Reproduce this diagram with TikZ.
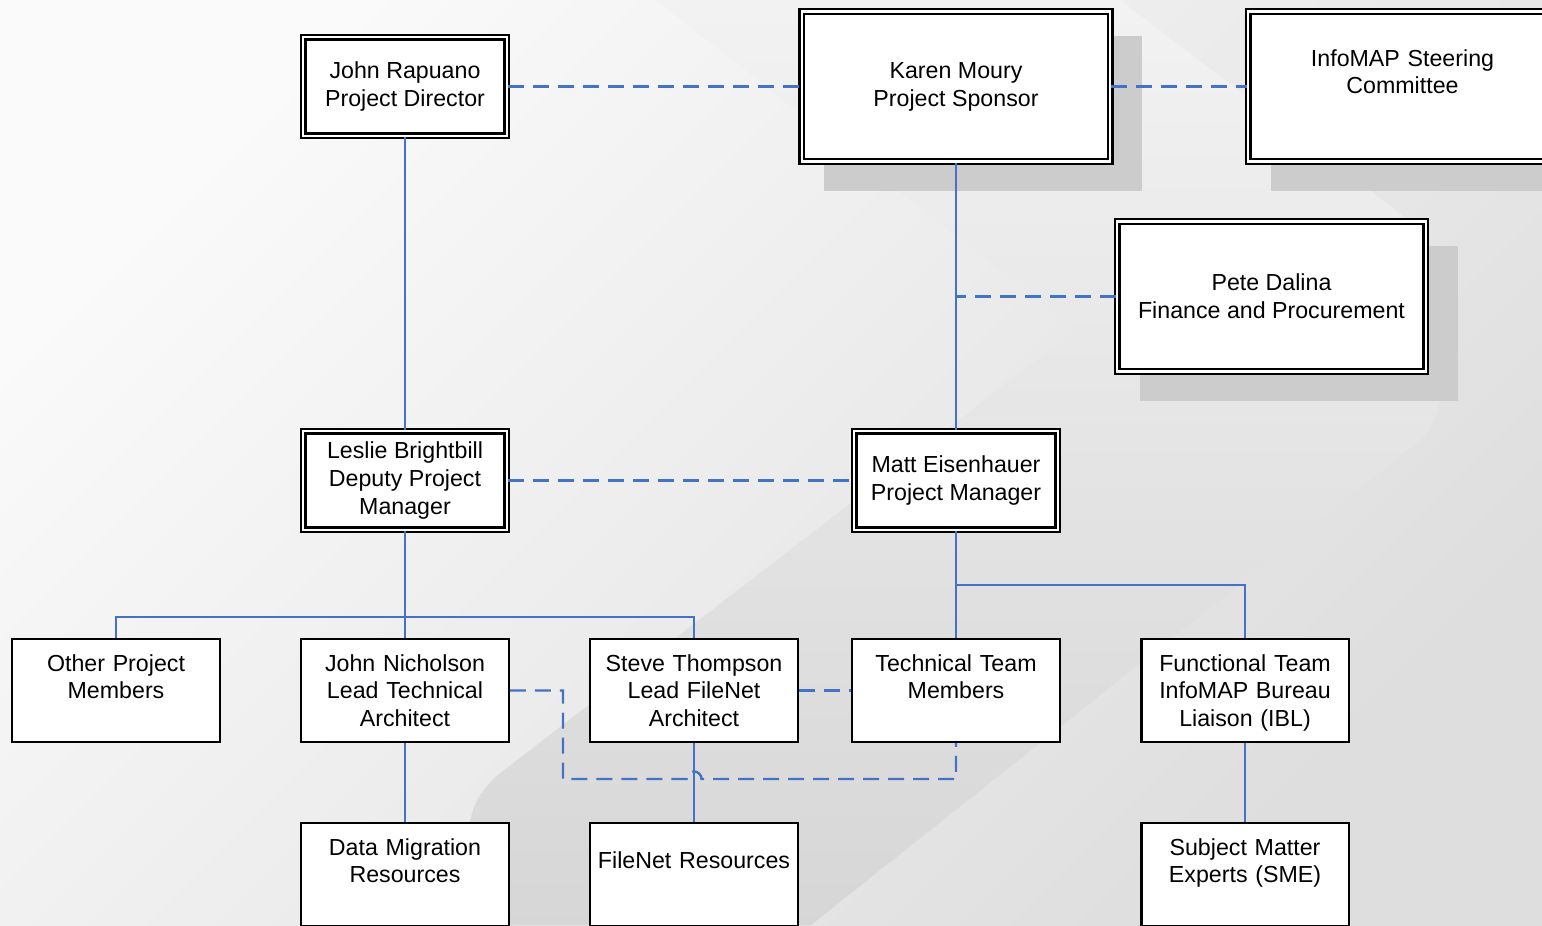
\documentclass[tikz,border=0pt]{standalone}
\usepackage{fontspec}
\setmainfont{Liberation Sans}
\usepackage{tikz}
\usetikzlibrary{shadows}

\definecolor{linkblue}{RGB}{68,114,196}
\definecolor{shadowgray}{RGB}{204,204,204}

\tikzset{
  dbox/.style={draw, double, line width=1.3pt, double distance=1.3pt, fill=white,
    minimum width=4.07cm, minimum height=1.97cm, inner sep=0pt, align=center,
    font=\fontsize{13.2}{15.9}\selectfont},
  bigbox/.style={dbox, minimum width=6.17cm, minimum height=3cm,
    drop shadow={shadow xshift=0.53cm, shadow yshift=-0.52cm, shadow scale=1.03,
      fill=shadowgray, opacity=1}},
  sbox/.style={draw, line width=1.4pt, fill=white, minimum width=4.15cm, minimum height=2.05cm,
    inner sep=0pt, text width=4cm, align=center, text height=9.6pt, text depth=31.8pt,
    font=\fontsize{13.2}{15.9}\selectfont},
  solidlink/.style={draw=linkblue, line width=1.2pt},
  dashlink/.style={solidlink, line width=1.4pt, dash pattern=on 0.32cm off 0.18cm},
}

\begin{document}
\begin{tikzpicture}
    \useasboundingbox (0,0) rectangle (30.84,-18.5);

    % background and the big grey chevron
    \shade[top color=black!2, bottom color=black!13, shading angle=45]
        (0,0) rectangle (30.84,-18.5);
    \shade[top color=black!5, middle color=black!21, bottom color=black!16]
        (13.12,0) -- (22.4,0) -- (27.96,-4.24)
        .. controls (29.16,-5.16) and (29.24,-8.14) .. (28.34,-8.86)
        -- (16.22,-18.5) -- (9.16,-18.5) -- (9.32,-16.7)
        .. controls (9.52,-15.96) .. (9.9,-15.54)
        -- (21.52,-6.6) -- cycle;

    % top levels
    \node[dbox] (rapuano) at (8.1,-1.73) {John Rapuano\\Project Director};
    \node[bigbox] (moury) at (19.12,-1.73) {Karen Moury\\Project Sponsor};
    \node[bigbox, text width=6cm, text height=9.6pt, text depth=32.9pt] (steering)
        at (28.05,-1.73) {InfoMAP Steering\\Committee};
    \node[bigbox] (dalina) at (25.43,-5.93) {Pete Dalina\\Finance and Procurement};
    \node[dbox] (brightbill) at (8.1,-9.61) {Leslie Brightbill\\Deputy Project\\Manager};
    \node[dbox] (eisenhauer) at (19.12,-9.61) {Matt Eisenhauer\\Project Manager};

    % teams
    \node[sbox] (other) at (2.32,-13.81) {Other Project\\Members};
    \node[sbox] (nicholson) at (8.1,-13.81) {John Nicholson\\Lead Technical\\Architect};
    \node[sbox] (thompson) at (13.88,-13.81) {Steve Thompson\\Lead FileNet\\Architect};
    \node[sbox] (techteam) at (19.12,-13.81) {Technical Team\\Members};
    \node[sbox] (functional) at (24.9,-13.81) {Functional Team\\InfoMAP Bureau\\Liaison (IBL)};

    \node[sbox] (migration) at (8.1,-17.49) {Data Migration\\Resources};
    \node[sbox, text height=25.5pt] (filenet) at (13.88,-17.49) {FileNet Resources};
    \node[sbox] (sme) at (24.9,-17.49) {Subject Matter\\Experts (SME)};

    % links
    \draw[dashlink] (rapuano.east) -- (moury.west);
    \draw[dashlink] (moury.east) -- (steering.west);
    \draw[solidlink] (moury.south) -- (eisenhauer.north);
    \draw[dashlink] (dalina.west) -- (dalina.west -| moury.south);
    \draw[solidlink] (rapuano.south) -- (brightbill.north);
    \draw[dashlink] (brightbill.east) -- (eisenhauer.west);

    \draw[solidlink] (brightbill.south) -- (nicholson.north);
    \draw[solidlink] (other.north) -- ++(0,0.42) -| (thompson.north);
    \draw[solidlink] (eisenhauer.south) -- (techteam.north);
    \draw[solidlink] (techteam.north) ++(0,1.06) -| (functional.north);

    \draw[solidlink] (nicholson.south) -- (migration.north);
    \draw[solidlink] (thompson.south) -- (filenet.north);
    \draw[solidlink] (functional.south) -- (sme.north);

    \draw[dashlink] (thompson.east) -- (techteam.west);
    \coordinate (hop) at (13.88,-15.58);
    \draw[dashlink] (nicholson.east) -- ++(1.06,0) |- ([xshift=-0.15cm]hop)
        arc[start angle=180, end angle=0, radius=0.15cm] -| (techteam.south);
\end{tikzpicture}
\end{document}
